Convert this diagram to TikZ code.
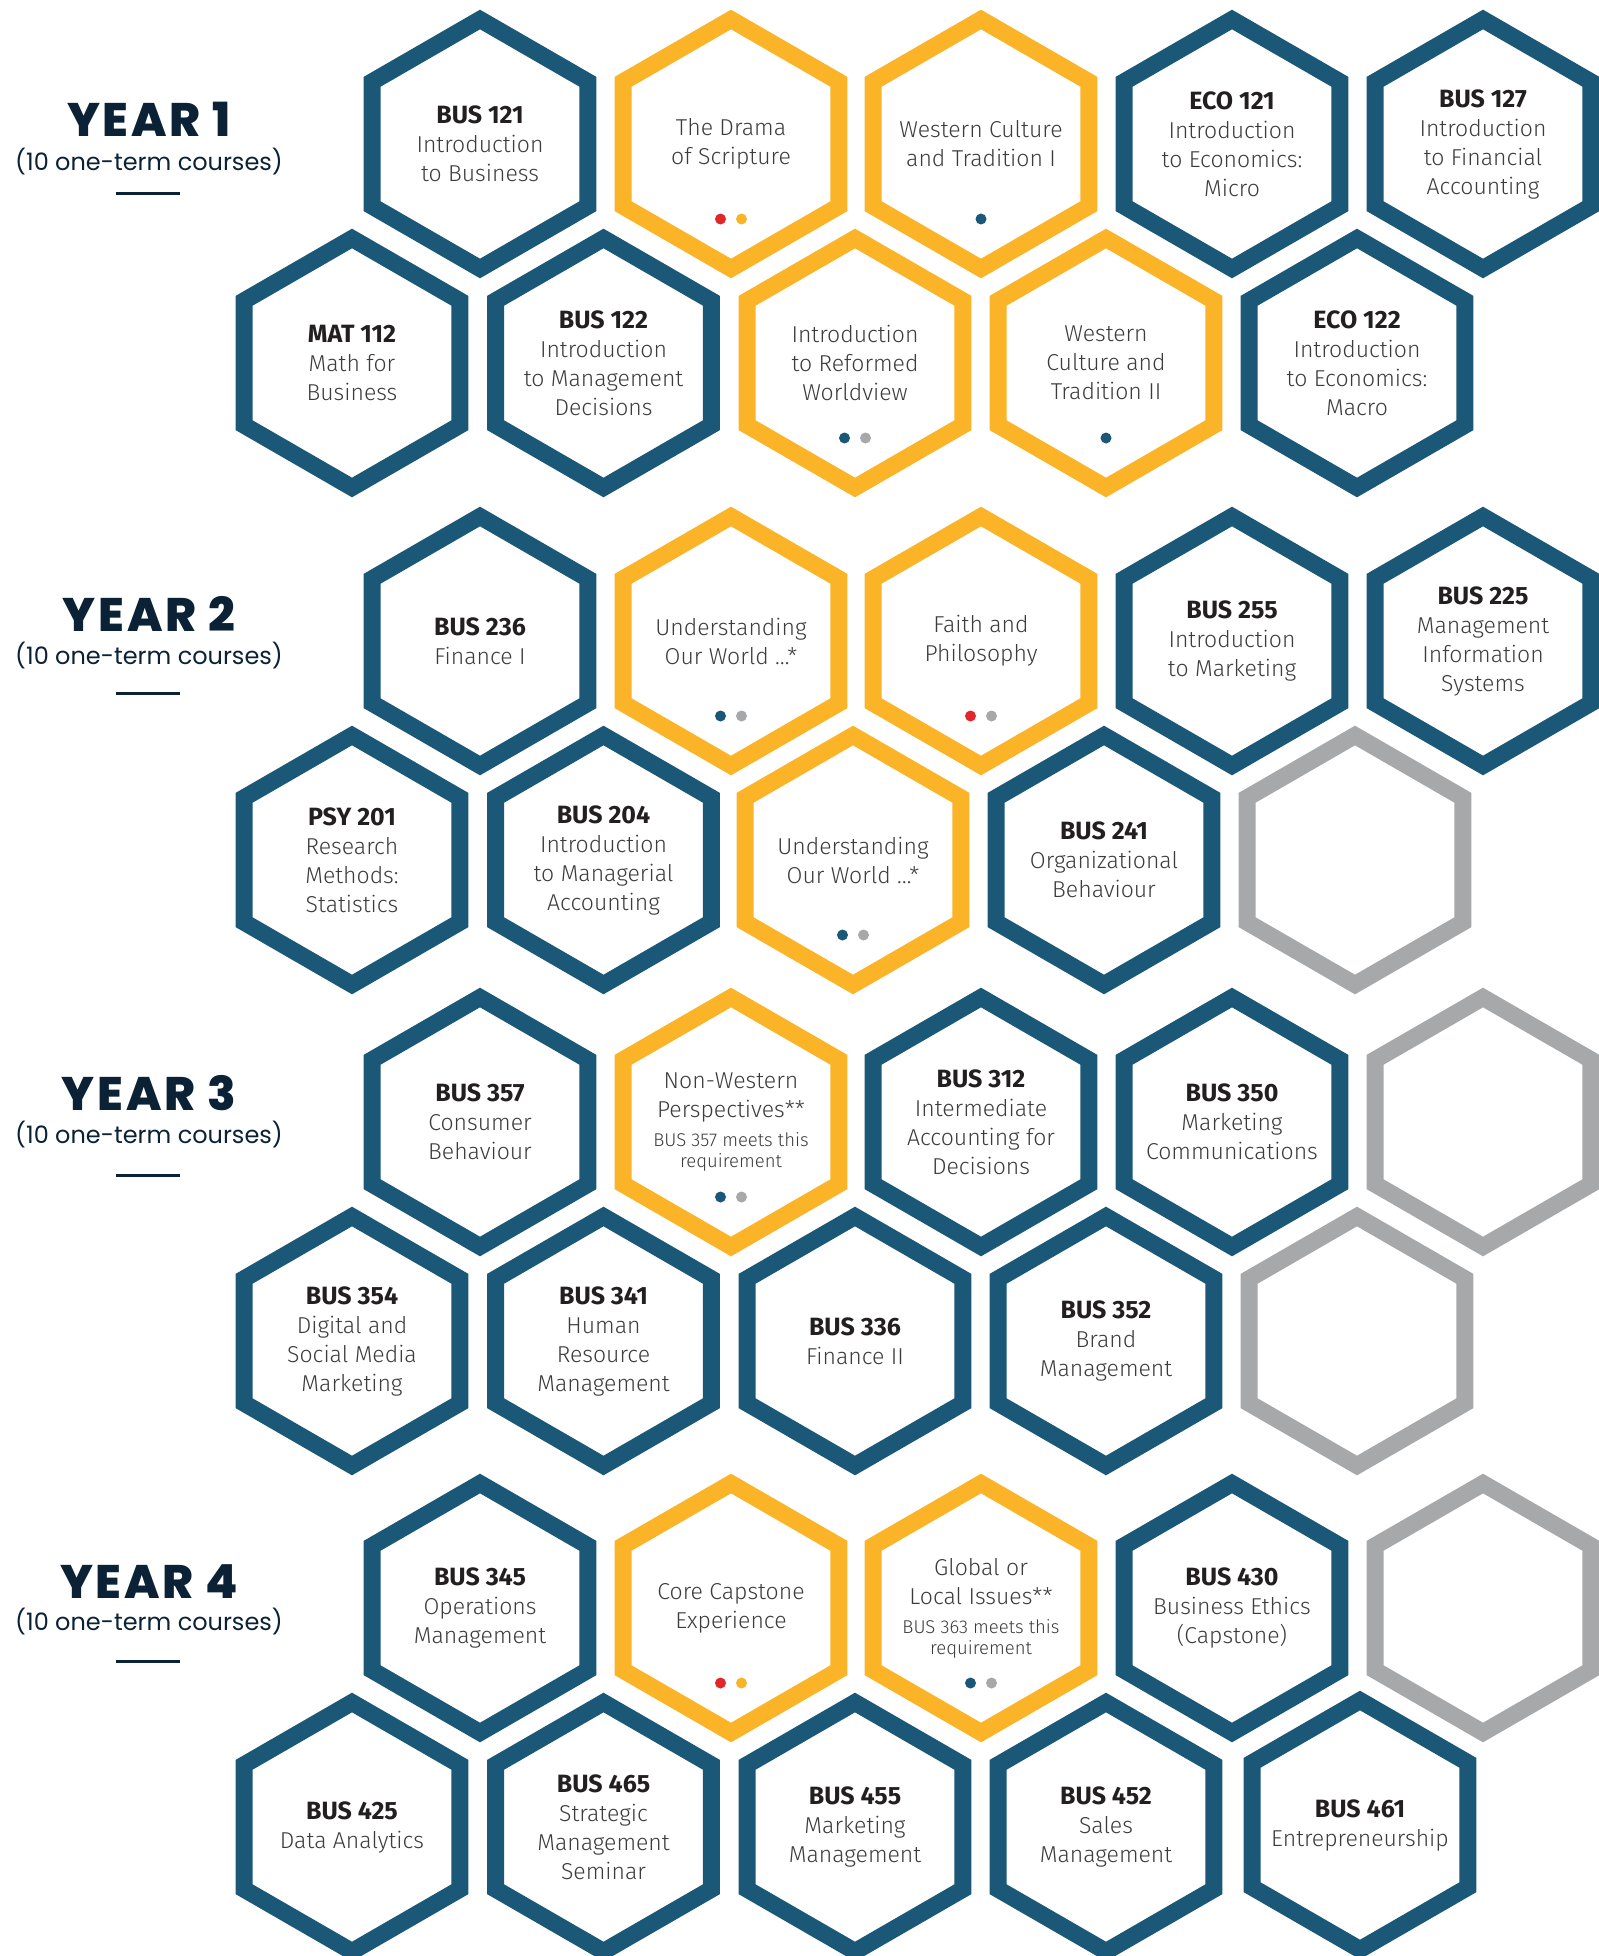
\documentclass[tikz,border=0pt]{standalone}
\usepackage{fontspec}
\setmainfont{Fira Sans}[UprightFont=* Light, BoldFont=* Bold]
\newfontfamily\yearfont{Poppins}
\newfontfamily\yeartitlefont{Poppins ExtraBold}[LetterSpace=6]
\definecolor{hexblue}{HTML}{1B5878}
\definecolor{hexgold}{HTML}{FBB427}
\definecolor{hexgray}{HTML}{A7A8AA}
\definecolor{dotred}{HTML}{E0282C}
\definecolor{navy}{HTML}{0B2236}
\definecolor{codeblack}{HTML}{231F20}
\definecolor{bodygray}{HTML}{3C3C3C}
\newcommand\cc[1]{\textcolor{codeblack}{\bfseries\fontsize{25}{29}\selectfont #1}}
\newcommand\smalltxt[1]{{\fontsize{18.5}{21}\selectfont #1}}
\newcommand\hexat[3]{%
  \draw[hexline,draw=#3] (#1,#2) +(90:124.5) -- +(30:124.5) -- +(-30:124.5)
    -- +(-90:124.5) -- +(-150:124.5) -- +(150:124.5) -- cycle;}
\newcommand\dottwo[4]{%
  \fill[#3] ({#1-10.5},{#2+75}) circle (5.5pt);
  \fill[#4] ({#1+10.5},{#2+75}) circle (5.5pt);}
\newcommand\dotone[3]{%
  \fill[#3] (#1,{#2+75}) circle (5.5pt);}
\newcommand\yearlabel[5]{% name, number, baseline YEAR, baseline courses, rule y
  \node[yeartitle] (#1) at (149,#3) {YEAR #2};
  \node[yearsub] (#1s) at (149,#4) {(10 one-term courses)};
  \draw[yearrule] (116,#5) -- (180,#5);}
\tikzset{
  hexline/.style={line width=17pt, line join=miter},
  hextext/.style={align=center, inner sep=0pt, text=bodygray,
    font=\fontsize{23}{29}\selectfont},
  yeartitle/.style={anchor=base, inner sep=0pt, text=navy,
    font=\yeartitlefont\fontsize{47}{50}\selectfont},
  yearsub/.style={anchor=base, inner sep=0pt, text=navy,
    font=\yearfont\fontsize{24}{27}\selectfont},
  yearrule/.style={draw=navy, line width=3pt}
}
\begin{document}
\begin{tikzpicture}[x=1pt,y=-1pt]
\fill[white] (0,0) rectangle (1598,1956);
\useasboundingbox (0,0) rectangle (1598,1956);

% ---------------- YEAR 1 ----------------
\yearlabel{yr1}{1}{137}{170}{193}
\hexat{480}{144}{hexblue}
\hexat{731}{144}{hexgold}
\hexat{981}{144}{hexgold}
\hexat{1232}{144}{hexblue}
\hexat{1483}{144}{hexblue}
\node[hextext] (bus121) at (480,144) {\cc{BUS 121}\\Introduction\\to Business};
\node[hextext] (drama) at (731,144) {The Drama\\of Scripture};
\dottwo{731}{144}{dotred}{hexgold}
\node[hextext] (wct1) at (981,144) {Western Culture\\and Tradition I};
\dotone{981}{144}{hexblue}
\node[hextext] (eco121) at (1232,144) {\cc{ECO 121}\\Introduction\\to Economics:\\Micro};
\node[hextext] (bus127) at (1483,144) {\cc{BUS 127}\\Introduction\\to Financial\\Accounting};

\hexat{352}{363}{hexblue}
\hexat{603.5}{363}{hexblue}
\hexat{855}{363}{hexgold}
\hexat{1106}{363}{hexgold}
\hexat{1357}{363}{hexblue}
\node[hextext] (mat112) at (352,363) {\cc{MAT 112}\\Math for\\Business};
\node[hextext] (bus122) at (603.5,363) {\cc{BUS 122}\\Introduction\\to Management\\Decisions};
\node[hextext] (irw) at (855,363) {Introduction\\to Reformed\\Worldview};
\dottwo{855}{363}{hexblue}{hexgray}
\node[hextext] (wct2) at (1106,363) {Western\\Culture and\\Tradition II};
\dotone{1106}{363}{hexblue}
\node[hextext] (eco122) at (1357,363) {\cc{ECO 122}\\Introduction\\to Economics:\\Macro};

% ---------------- YEAR 2 ----------------
\yearlabel{yr2}{2}{631}{664}{693}
\hexat{480}{641}{hexblue}
\hexat{731}{641}{hexgold}
\hexat{981}{641}{hexgold}
\hexat{1232}{641}{hexblue}
\hexat{1483}{641}{hexblue}
\node[hextext] (bus236) at (480,641) {\cc{BUS 236}\\Finance I};
\node[hextext] (uow1) at (731,641) {Understanding\\Our World …*};
\dottwo{731}{641}{hexblue}{hexgray}
\node[hextext] (faith) at (981,641) {Faith and\\Philosophy};
\dottwo{981}{641}{dotred}{hexgray}
\node[hextext] (bus255) at (1232,641) {\cc{BUS 255}\\Introduction\\to Marketing};
\node[hextext] (bus225) at (1483,641) {\cc{BUS 225}\\Management\\Information\\Systems};

\hexat{352}{860}{hexblue}
\hexat{603.5}{860}{hexblue}
\hexat{853}{860}{hexgold}
\hexat{1104}{860}{hexblue}
\hexat{1355}{860}{hexgray}
\node[hextext] (psy201) at (352,860) {\cc{PSY 201}\\Research\\Methods:\\Statistics};
\node[hextext] (bus204) at (603.5,860) {\cc{BUS 204}\\Introduction\\to Managerial\\Accounting};
\node[hextext] (uow2) at (853,860) {Understanding\\Our World …*};
\dottwo{853}{860}{hexblue}{hexgray}
\node[hextext] (bus241) at (1104,860) {\cc{BUS 241}\\Organizational\\Behaviour};

% ---------------- YEAR 3 ----------------
\yearlabel{yr3}{3}{1110}{1143}{1175}
\hexat{480}{1122}{hexblue}
\hexat{731}{1122}{hexgold}
\hexat{981}{1122}{hexblue}
\hexat{1232}{1122}{hexblue}
\hexat{1483}{1122}{hexgray}
\node[hextext] (bus357) at (480,1122) {\cc{BUS 357}\\Consumer\\Behaviour};
\node[hextext] (nwp) at (731,1122) {Non-Western\\Perspectives**\\\smalltxt{BUS 357 meets this}\\[-8pt]\smalltxt{requirement}};
\dottwo{731}{1122}{hexblue}{hexgray}
\node[hextext] (bus312) at (981,1122) {\cc{BUS 312}\\Intermediate\\Accounting for\\Decisions};
\node[hextext] (bus350) at (1232,1122) {\cc{BUS 350}\\Marketing\\Communications};

\hexat{352}{1341}{hexblue}
\hexat{603.5}{1341}{hexblue}
\hexat{855}{1341}{hexblue}
\hexat{1106}{1341}{hexblue}
\hexat{1357}{1341}{hexgray}
\node[hextext] (bus354) at (352,1341) {\cc{BUS 354}\\Digital and\\Social Media\\Marketing};
\node[hextext] (bus341) at (603.5,1341) {\cc{BUS 341}\\Human\\Resource\\Management};
\node[hextext] (bus336) at (855,1341) {\cc{BUS 336}\\Finance II};
\node[hextext] (bus352) at (1106,1341) {\cc{BUS 352}\\Brand\\Management};

% ---------------- YEAR 4 ----------------
\yearlabel{yr4}{4}{1598}{1630}{1661}
\hexat{480}{1608}{hexblue}
\hexat{731}{1608}{hexgold}
\hexat{981}{1608}{hexgold}
\hexat{1232}{1608}{hexblue}
\hexat{1483}{1608}{hexgray}
\node[hextext] (bus345) at (480,1608) {\cc{BUS 345}\\Operations\\Management};
\node[hextext] (cce) at (731,1608) {Core Capstone\\Experience};
\dottwo{731}{1608}{dotred}{hexgold}
\node[hextext] (gli) at (981,1608) {Global or\\Local Issues**\\\smalltxt{BUS 363 meets this}\\[-8pt]\smalltxt{requirement}};
\dottwo{981}{1608}{hexblue}{hexgray}
\node[hextext] (bus430) at (1232,1608) {\cc{BUS 430}\\Business Ethics\\(Capstone)};

\hexat{352}{1827}{hexblue}
\hexat{603.5}{1827}{hexblue}
\hexat{855}{1827}{hexblue}
\hexat{1106}{1827}{hexblue}
\hexat{1360}{1825}{hexblue}
\node[hextext] (bus425) at (352,1827) {\cc{BUS 425}\\Data Analytics};
\node[hextext] (bus465) at (603.5,1827) {\cc{BUS 465}\\Strategic\\Management\\Seminar};
\node[hextext] (bus455) at (855,1827) {\cc{BUS 455}\\Marketing\\Management};
\node[hextext] (bus452) at (1106,1827) {\cc{BUS 452}\\Sales\\Management};
\node[hextext] (bus461) at (1360,1825) {\cc{BUS 461}\\Entrepreneurship};
\end{tikzpicture}
\end{document}
